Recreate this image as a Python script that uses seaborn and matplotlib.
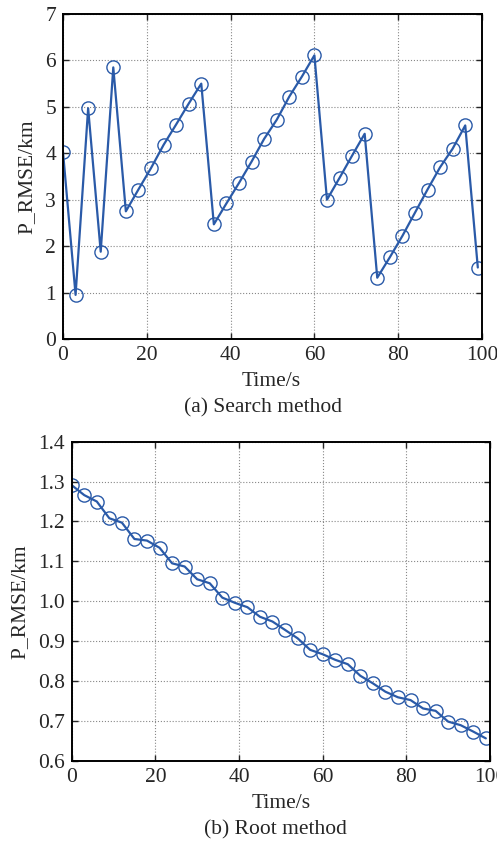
import matplotlib
matplotlib.use('Agg')
import matplotlib.pyplot as plt
import seaborn as sns
import numpy as np

sns.set_style('ticks')
plt.rcParams['font.family'] = ['Liberation Serif', 'DejaVu Serif']
plt.rcParams['font.size'] = 15.5

# Data
time_s = list(range(0, 100, 3))
search_rmse = [4.03, 0.95, 4.97, 1.88, 5.85, 2.75, 3.22, 3.68, 4.18, 4.62, 5.07, 5.50,
               2.47, 2.92, 3.36, 3.82, 4.31, 4.72, 5.22, 5.65, 6.11, 3.00, 3.47, 3.95,
               4.42, 1.32, 1.76, 2.22, 2.72, 3.22, 3.70, 4.10, 4.60, 1.54]
root_rmse = [1.291, 1.266, 1.250, 1.208, 1.197, 1.156, 1.152, 1.134, 1.095, 1.087,
             1.055, 1.045, 1.009, 0.996, 0.985, 0.961, 0.949, 0.928, 0.907, 0.878,
             0.867, 0.853, 0.842, 0.813, 0.794, 0.773, 0.759, 0.752, 0.731, 0.725,
             0.698, 0.689, 0.673, 0.656]

color = '#2a5aa8'

fig = plt.figure(figsize=(4.97, 8.44), dpi=100)
ax1 = fig.add_axes([63 / 497, 1 - 339 / 844, 419 / 497, 325 / 844])
ax2 = fig.add_axes([71.7 / 497, 1 - 760.7 / 844, 418.3 / 497, 319 / 844])


def draw(ax, y, ylim, yticks, fmt):
    sns.lineplot(x=time_s, y=y, ax=ax, color=color, linewidth=1.6,
                 marker='o', markersize=9.5, markerfacecolor='none',
                 markeredgecolor=color, markeredgewidth=1.0)
    ax.set_xlim(0, 100)
    ax.set_ylim(*ylim)
    ax.set_xticks([0, 20, 40, 60, 80, 100])
    ax.set_yticks(yticks)
    ax.set_yticklabels([fmt.format(v) for v in yticks])
    ax.grid(True, linestyle=':', color='#888888', linewidth=0.8)
    ax.tick_params(direction='in', top=True, right=True, length=4,
                   labelsize=15.5, pad=5, width=1)
    for s in ax.spines.values():
        s.set_linewidth(1.4)
        s.set_color('black')
    ax.set_xlabel('')
    ax.set_ylabel('P_RMSE/km', fontsize=15.5, labelpad=6)


draw(ax1, search_rmse, (0, 7), list(range(0, 8)), '{:.0f}')
draw(ax2, root_rmse, (0.6, 1.4), [0.6, 0.7, 0.8, 0.9, 1.0, 1.1, 1.2, 1.3, 1.4], '{:.1f}')

fig.text(271 / 497, 1 - 381 / 844, 'Time/s', ha='center', va='center', fontsize=15.5)
fig.text(263 / 497, 1 - 408 / 844, '(a) Search method', ha='center', va='center', fontsize=15.5)
fig.text(281 / 497, 1 - 803 / 844, 'Time/s', ha='center', va='center', fontsize=15.5)
fig.text(275 / 497, 1 - 830 / 844, '(b) Root method', ha='center', va='center', fontsize=15.5)

fig.savefig('out.png', dpi=100)
